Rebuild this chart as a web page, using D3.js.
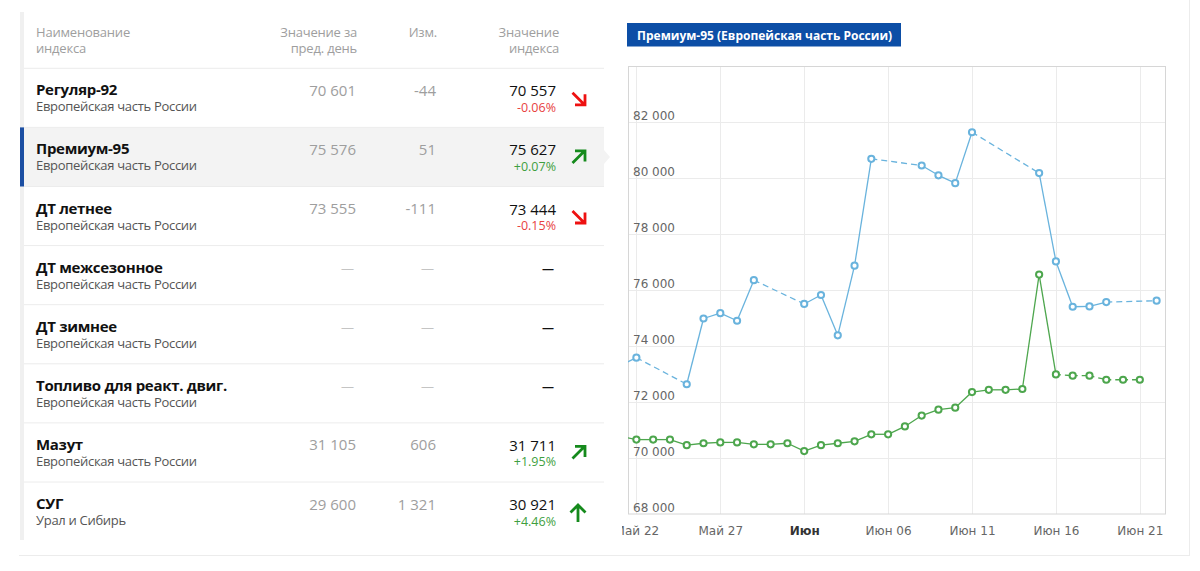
<!DOCTYPE html>
<html><head><meta charset="utf-8">
<script src="https://cdn.jsdelivr.net/npm/d3@7"></script>
<style>body{margin:0;background:#fff}svg{display:block}</style>
</head><body>
<svg id="c" width="1200" height="571"></svg>
<script>
// ---------- DATA ----------
const headers = [["Наименование","индекса"],["Значение за","пред. день"],["Изм."],["Значение","индекса"]];
const names = ["Регуляр-92","Премиум-95","ДТ летнее","ДТ межсезонное","ДТ зимнее","Топливо для реакт. двиг.","Мазут","СУГ"];
const regions = ["Европейская часть России","Европейская часть России","Европейская часть России","Европейская часть России","Европейская часть России","Европейская часть России","Европейская часть России","Урал и Сибирь"];
const prevValues = [70601, 75576, 73555, null, null, null, 31105, 29600];
const changes = [-44, 51, -111, null, null, null, 606, 1321];
const indexValues = [70557, 75627, 73444, null, null, null, 31711, 30921];
const changePct = [-0.06, 0.07, -0.15, null, null, null, 1.95, 4.46];
const arrowKinds = ["dr","ur","dr",null,null,null,"ur","u"];
const selectedRow = 1;

const chartTitle = "Премиум-95 (Европейская часть России)";
const blueDates = ["2020-05-21","2020-05-22","2020-05-25","2020-05-26","2020-05-27","2020-05-28","2020-05-29",
  "2020-06-01","2020-06-02","2020-06-03","2020-06-04","2020-06-05","2020-06-08","2020-06-09","2020-06-10","2020-06-11",
  "2020-06-15","2020-06-16","2020-06-17","2020-06-18","2020-06-19","2020-06-22"];
const blueValues = [73300,73590,72640,74990,75180,74910,76360,75510,75830,74390,76880,80700,80460,80110,79830,81650,
  80190,77030,75410,75420,75576,75627];
const greenDates = ["2020-05-21","2020-05-22","2020-05-23","2020-05-24","2020-05-25","2020-05-26","2020-05-27","2020-05-28",
  "2020-05-29","2020-05-30","2020-05-31","2020-06-01","2020-06-02","2020-06-03","2020-06-04","2020-06-05","2020-06-06",
  "2020-06-07","2020-06-08","2020-06-09","2020-06-10","2020-06-11","2020-06-12","2020-06-13","2020-06-14","2020-06-15",
  "2020-06-16","2020-06-17","2020-06-18","2020-06-19","2020-06-20","2020-06-21"];
const greenValues = [70780,70660,70660,70660,70460,70530,70560,70560,70490,70490,70530,70250,70460,70530,70600,70850,70850,
  71130,71520,71730,71800,72360,72440,72440,72470,76560,72990,72945,72945,72800,72800,72800];
const greenDashedFrom = "2020-06-16";
const xTickDates = ["2020-05-22","2020-05-27","2020-06-01","2020-06-06","2020-06-11","2020-06-16","2020-06-21"];
const xTickLabels = ["Май 22","Май 27","Июн","Июн 06","Июн 11","Июн 16","Июн 21"];
const xTickBold = [false,false,true,false,false,false,false];
const yTicks = [68000,70000,72000,74000,76000,78000,80000,82000];
const xDomain = ["2020-05-21T12:00","2020-06-22T12:00"];
const yDomain = [68000, 84000];

// ---------- SETUP ----------
const svg = d3.select("#c");
const loc = d3.formatLocale({decimal:".", thousands:" ", grouping:[3], currency:["",""], minus:"-"});
const fmtInt = loc.format(",d");
const fmtPct = loc.format("+.2f");
const TF = "'Open Sans', 'Noto Sans', sans-serif";
const parseD = d3.utcParse("%Y-%m-%d");
const parseDT = d3.utcParse("%Y-%m-%dT%H:%M");

svg.append("rect").attr("width",1200).attr("height",571).attr("fill","#fff");

// card borders
svg.append("line").attr("x1",19).attr("x2",1190).attr("y1",555.5).attr("y2",555.5).attr("stroke","#ececec");
svg.append("line").attr("x1",1189.5).attr("x2",1189.5).attr("y1",0).attr("y2",555.5).attr("stroke","#ececec");

// ---------- TABLE ----------
const T = {left:20, right:604, top0:68.3, rowH:59.1};
const tbl = svg.append("g").style("font-family", TF);

// left stripe
tbl.append("rect").attr("x",T.left).attr("y",12).attr("width",4).attr("height",540-12).attr("fill","#f0f0f0");

// header
const colRight = [null, 357, 437, 559];
headers.forEach((h,i)=>{
  const t = tbl.append("text").attr("fill","#9e9e9e").attr("font-size",13).attr("letter-spacing",-0.2)
    .attr("text-anchor", i===0 ? "start":"end").attr("x", i===0 ? 36 : colRight[i]);
  h.forEach((line,j)=> t.append("tspan").attr("x", i===0 ? 36 : colRight[i]).attr("y", 36.5 + j*16).text(line));
});

const rows = tbl.selectAll("g.row").data(names).join("g").attr("class","row")
  .attr("transform",(d,i)=>`translate(0,${T.top0 + i*T.rowH})`);

rows.each(function(d,i){
  const g = d3.select(this);
  if (i===selectedRow){
    g.append("rect").attr("x",T.left).attr("y",0.5).attr("width",T.right-T.left).attr("height",T.rowH-0.5).attr("fill","#f3f3f3");
    g.append("path").attr("d",`M${T.right},${T.rowH/2-7}L${T.right+6},${T.rowH/2}L${T.right},${T.rowH/2+7}Z`).attr("fill","#f3f3f3");
    g.append("rect").attr("x",T.left).attr("y",0).attr("width",4).attr("height",T.rowH).attr("fill","#1c4fa3");
  }
  g.append("line").attr("x1",24).attr("x2",T.right).attr("y1",0).attr("y2",0).attr("stroke","#ececec");
  g.append("text").attr("x",36).attr("y",27).attr("font-size",15).attr("font-weight",700).attr("letter-spacing",-0.3).attr("fill","#111").text(d);
  g.append("text").attr("x",36).attr("y",43).attr("font-size",13).attr("letter-spacing",-0.3).attr("fill","#555").text(regions[i]);
  if (prevValues[i]===null){
    g.append("text").attr("x",354).attr("y",27).attr("text-anchor","end").attr("font-size",13).attr("fill","#c4c4c4").text("—");
    g.append("text").attr("x",434).attr("y",27).attr("text-anchor","end").attr("font-size",13).attr("fill","#c4c4c4").text("—");
    g.append("text").attr("x",554).attr("y",27).attr("text-anchor","end").attr("font-size",12).attr("font-weight",700).attr("fill","#111").text("—");
  } else {
    g.append("text").attr("x",356).attr("y",27.5).attr("text-anchor","end").attr("font-size",15).attr("fill","#9e9e9e").text(fmtInt(prevValues[i]));
    g.append("text").attr("x",436).attr("y",27.5).attr("text-anchor","end").attr("font-size",15).attr("fill","#9e9e9e").text(fmtInt(changes[i]));
    g.append("text").attr("x",556).attr("y",28).attr("text-anchor","end").attr("font-size",15).attr("fill","#111").text(fmtInt(indexValues[i]));
    const up = changePct[i] >= 0;
    g.append("text").attr("x",556).attr("y",43.5).attr("text-anchor","end").attr("font-size",12.5)
      .attr("fill", up ? "#3f9f3f" : "#e8423f").text(fmtPct(changePct[i]) + "%");
  }
  const k = arrowKinds[i];
  if (k){
    const col = k==="dr" ? "#ee1111" : "#158a1c";
    let p;
    if (k==="dr") p = "M572.5,24.5L584,36M575,36.5H585V26";
    else if (k==="ur") p = "M572.5,35.5L584,24M575,23.5H585V34";
    else p = "M578,40V23M570.5,30.5L578,23L585.5,30.5";
    g.append("path").attr("d",p).attr("fill","none").attr("stroke",col).attr("stroke-width",2.8).attr("stroke-linejoin","miter");
  }
});

// ---------- CHART ----------
const P = {l:628, r:1165, t:66.5, b:514};
const x = d3.scaleUtc().domain(xDomain.map(parseDT)).range([P.l, P.r]);
const y = d3.scaleLinear().domain(yDomain).range([P.b, P.t]);

// title box
const ch = svg.append("g");
ch.append("rect").attr("x",627).attr("y",23).attr("width",274).attr("height",23.5).attr("fill","#0c4ea6");
ch.append("text").attr("x",637).attr("y",39.5).attr("font-family",TF).attr("font-weight",700).attr("font-size",12)
  .attr("fill","#fff").text(chartTitle);

// clip
const defs = svg.append("defs");
defs.append("clipPath").attr("id","plotclip").append("rect").attr("x",P.l).attr("y",P.t-6).attr("width",P.r-P.l).attr("height",P.b-P.t+12);
defs.append("clipPath").attr("id","chartclip").append("rect").attr("x",622).attr("y",0).attr("width",570).attr("height",571);

const chart = ch.append("g").attr("clip-path","url(#chartclip)");

// grid
chart.append("g").selectAll("line").data(yTicks.filter(v=>v>yDomain[0])).join("line")
  .attr("x1",P.l).attr("x2",P.r).attr("y1",d=>Math.round(y(d))+0.5).attr("y2",d=>Math.round(y(d))+0.5).attr("stroke","#ebebeb");
chart.append("g").selectAll("line").data(xTickDates.map(parseD)).join("line")
  .attr("y1",P.t).attr("y2",P.b).attr("x1",d=>Math.round(x(d))+0.5).attr("x2",d=>Math.round(x(d))+0.5).attr("stroke","#ebebeb");

// border
chart.append("rect").attr("x",P.l+0.5).attr("y",P.t).attr("width",P.r-P.l).attr("height",P.b-P.t)
  .attr("fill","none").attr("stroke","#d6d6d6");

// y labels
const yAxis = chart.append("g").attr("transform",`translate(${P.l+2},0)`)
  .call(d3.axisRight(y).tickValues(yTicks).tickSize(0).tickFormat(fmtInt));
yAxis.select(".domain").remove();
yAxis.selectAll("text").attr("dy","-0.22em").attr("font-family","'DejaVu Sans', Verdana, sans-serif").attr("font-size",12).attr("fill","#666");

// x labels
const xAxis = chart.append("g").attr("transform",`translate(0,${P.b})`)
  .call(d3.axisBottom(x).tickValues(xTickDates.map(parseD)).tickSize(0).tickPadding(12.5).tickFormat((d,i)=>xTickLabels[i]));
xAxis.select(".domain").remove();
xAxis.selectAll("text").attr("font-family","'DejaVu Sans', Verdana, sans-serif").attr("font-size",12)
  .attr("fill",(d,i)=>xTickBold[i] ? "#333" : "#666").attr("font-weight",(d,i)=>xTickBold[i] ? 700 : 400);

// series
const plot = chart.append("g").attr("clip-path","url(#plotclip)");
function drawSeries(dates, values, color, dashTest, dashArr){
  const pts = dates.map((d,i)=>({d:parseD(d), v:values[i]}));
  const line = d3.line().x(p=>x(p.d)).y(p=>y(p.v));
  const segs = d3.pairs(pts);
  plot.append("g").selectAll("path").data(segs).join("path")
    .attr("d", s=>line(s)).attr("fill","none").attr("stroke",color).attr("stroke-width",1.3)
    .attr("stroke-dasharray", s=>dashTest(s) ? dashArr : null);
  plot.append("g").selectAll("circle").data(pts).join("circle")
    .attr("cx",p=>x(p.d)).attr("cy",p=>y(p.v)).attr("r",3.1)
    .attr("fill","#fff").attr("stroke",color).attr("stroke-width",2);
}
drawSeries(greenDates, greenValues, "#4da64d",
  s => s[0].d >= parseD(greenDashedFrom), "5,4");
drawSeries(blueDates, blueValues, "#69b3dd",
  s => (s[1].d - s[0].d)/864e5 > 1.5, "6,4");
</script>
</body></html>
